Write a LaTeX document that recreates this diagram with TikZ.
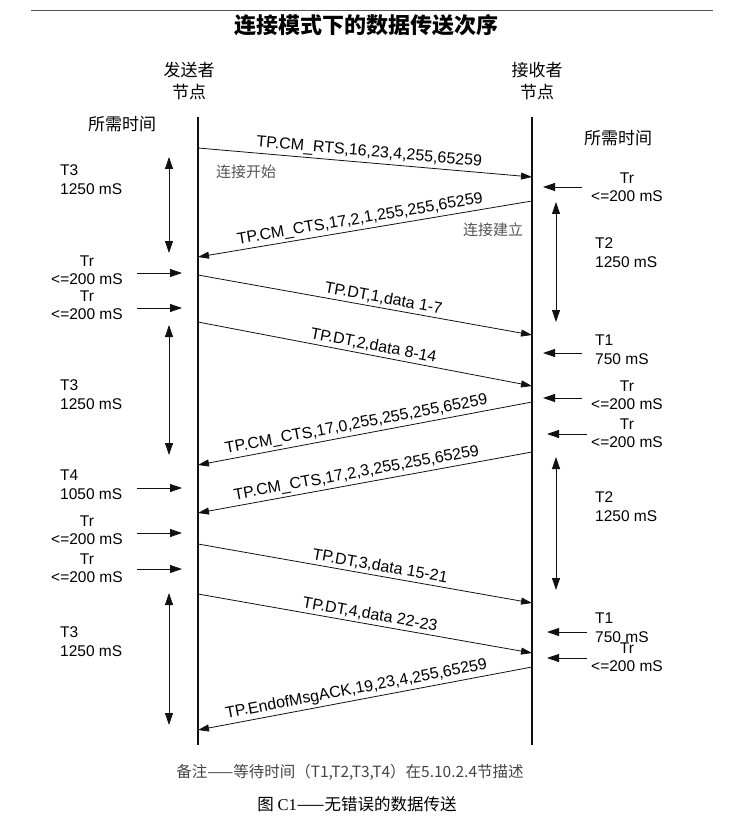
\documentclass[tikz,border=0pt]{standalone}
\usepackage{fontspec}
\setmainfont{Liberation Serif}
\setsansfont{Liberation Sans}
\newfontfamily\cjk{Noto Sans CJK SC}
\usepackage{xcolor}
\usetikzlibrary{positioning, arrows.meta, calc}
\definecolor{seqline}{HTML}{111111}
\definecolor{seqgray}{HTML}{555555}

\begin{document}
\begin{tikzpicture}[x=1pt,y=-1pt,
 lifeline/.style={draw=seqline, line width=2.6pt},
 msg/.style={draw=seqline, line width=0.8pt, -{Triangle[length=11pt,width=7pt]}},
 lbl/.style={font=\sffamily\fontsize{16}{18}\selectfont, sloped, above, inner sep=2.5pt},
 tarrow/.style={draw=seqline, line width=0.8pt, -{Triangle[length=12pt,width=8pt]}},
 tspan/.style={draw=seqline, line width=0.8pt, {Triangle[length=12pt,width=8pt]}-{Triangle[length=12pt,width=8pt]}},
 tval/.style={font=\sffamily\fontsize{15.5}{19}\selectfont, align=left, anchor=west, inner sep=0pt},
 trval/.style={font=\sffamily\fontsize{15.5}{17.5}\selectfont, align=center, inner sep=0pt},
 head/.style={font=\cjk\fontsize{17}{22}\selectfont, align=center, inner sep=0pt},
 hint/.style={font=\cjk\fontsize{15}{17}\selectfont, text=seqgray, inner sep=0pt}]
\useasboundingbox (0,0) rectangle (734,826);

% title and rule
\coordinate (ruleL) at (31,11);
\coordinate (ruleR) at (713,11);
\draw[seqgray, line width=1pt] (ruleL) -- (ruleR);
\node[font=\cjk\bfseries\fontsize{22}{24}\selectfont, inner sep=0pt](title) at (366,25){连接模式下的数据传送次序};

% lifelines
\node[head](snd) at (189,81){发送者\\节点};
\node[head](rcv) at (537,81){接收者\\节点};
\node[head](needL) at (122,124){所需时间};
\node[head](needR) at (618,138){所需时间};
\coordinate (sndTop) at (198,117);
\coordinate (sndBot) at (198,745);
\coordinate (rcvTop) at (532,117);
\coordinate (rcvBot) at (532,745);
\draw[lifeline] (sndTop) -- (sndBot);
\draw[lifeline] (rcvTop) -- (rcvBot);

% messages
\coordinate (m1a) at (198,148); \coordinate (m1b) at (532,177);
\draw[msg] (m1a) -- node[lbl,pos=0.51]{TP.CM\_RTS,16,23,4,255,65259} (m1b);
\node[hint](open) at (246,172){连接开始};
\coordinate (m2a) at (532,201); \coordinate (m2b) at (198,257);
\draw[msg] (m2a) -- node[lbl,pos=0.51]{TP.CM\_CTS,17,2,1,255,255,65259} (m2b);
\node[hint](estab) at (493,230){连接建立};
\coordinate (m3a) at (198,275); \coordinate (m3b) at (532,335);
\draw[msg] (m3a) -- node[lbl,pos=0.55]{TP.DT,1,data 1-7} (m3b);
\coordinate (m4a) at (198,322); \coordinate (m4b) at (532,386);
\draw[msg] (m4a) -- node[lbl,pos=0.52]{TP.DT,2,data 8-14} (m4b);
\coordinate (m5a) at (532,402); \coordinate (m5b) at (198,465);
\draw[msg] (m5a) -- node[lbl,pos=0.52]{TP.CM\_CTS,17,0,255,255,255,65259} (m5b);
\coordinate (m6a) at (532,452); \coordinate (m6b) at (198,513);
\draw[msg] (m6a) -- node[lbl,pos=0.52]{TP.CM\_CTS,17,2,3,255,255,65259} (m6b);
\coordinate (m7a) at (198,544); \coordinate (m7b) at (532,603);
\draw[msg] (m7a) -- node[lbl,pos=0.54]{TP.DT,3,data 15-21} (m7b);
\coordinate (m8a) at (198,594); \coordinate (m8b) at (532,653);
\draw[msg] (m8a) -- node[lbl,pos=0.51]{TP.DT,4,data 22-23} (m8b);
\coordinate (m9a) at (532,667); \coordinate (m9b) at (198,730);
\draw[msg] (m9a) -- node[lbl,pos=0.52]{TP.EndofMsgACK,19,23,4,255,65259} (m9b);

% sender side timing
\coordinate (ls1a) at (169,157); \coordinate (ls1b) at (169,253);
\draw[tspan] (ls1a) -- (ls1b);
\node[tval](t3a) at (60,180){T3\\1250 mS};
\coordinate (la1a) at (137,273); \coordinate (la1b) at (182,273);
\draw[tarrow] (la1a) -- (la1b);
\node[trval](tra) at (87,270){Tr\\<=200 mS};
\coordinate (la2a) at (137,308); \coordinate (la2b) at (182,308);
\draw[tarrow] (la2a) -- (la2b);
\node[trval](trb) at (87,305){Tr\\<=200 mS};
\coordinate (ls2a) at (169,325); \coordinate (ls2b) at (169,455);
\draw[tspan] (ls2a) -- (ls2b);
\node[tval](t3b) at (60,395){T3\\1250 mS};
\coordinate (la3a) at (137,488); \coordinate (la3b) at (182,488);
\draw[tarrow] (la3a) -- (la3b);
\node[tval](t4) at (60,485){T4\\1050 mS};
\coordinate (la4a) at (137,533); \coordinate (la4b) at (182,533);
\draw[tarrow] (la4a) -- (la4b);
\node[trval](trc) at (87,530){Tr\\<=200 mS};
\coordinate (la5a) at (137,569); \coordinate (la5b) at (182,569);
\draw[tarrow] (la5a) -- (la5b);
\node[trval](trd) at (87,568){Tr\\<=200 mS};
\coordinate (ls3a) at (169,593); \coordinate (ls3b) at (169,725);
\draw[tspan] (ls3a) -- (ls3b);
\node[tval](t3c) at (60,642){T3\\1250 mS};

% receiver side timing
\coordinate (ra1a) at (582,187); \coordinate (ra1b) at (543,187);
\draw[tarrow] (ra1a) -- (ra1b);
\node[trval](rtra) at (627,187){Tr\\<=200 mS};
\coordinate (rs1a) at (556,202); \coordinate (rs1b) at (556,322);
\draw[tspan] (rs1a) -- (rs1b);
\node[tval](t2a) at (595,253){T2\\1250 mS};
\coordinate (ra2a) at (582,353); \coordinate (ra2b) at (543,353);
\draw[tarrow] (ra2a) -- (ra2b);
\node[tval](t1a) at (595,350){T1\\750 mS};
\coordinate (ra3a) at (582,398); \coordinate (ra3b) at (543,398);
\draw[tarrow] (ra3a) -- (ra3b);
\node[trval](rtrb) at (627,395){Tr\\<=200 mS};
\coordinate (ra4a) at (587,434); \coordinate (ra4b) at (547,434);
\draw[tarrow] (ra4a) -- (ra4b);
\node[trval](rtrc) at (627,433){Tr\\<=200 mS};
\coordinate (rs2a) at (556,457); \coordinate (rs2b) at (556,590);
\draw[tspan] (rs2a) -- (rs2b);
\node[tval](t2b) at (595,507){T2\\1250 mS};
\coordinate (ra5a) at (587,632); \coordinate (ra5b) at (547,632);
\draw[tarrow] (ra5a) -- (ra5b);
\node[tval](t1b) at (595,628){T1\\750 mS};
\coordinate (ra6a) at (587,658); \coordinate (ra6b) at (547,658);
\draw[tarrow] (ra6a) -- (ra6b);
\node[trval](rtrd) at (627,657){Tr\\<=200 mS};

% notes
\node[font=\cjk\fontsize{15.5}{17}\selectfont, text=seqgray!80!black, inner sep=0pt](note) at (350,772){备注——等待时间（T1,T2,T3,T4）在5.10.2.4节描述};
\node[font=\cjk\fontsize{16.5}{18}\selectfont, inner sep=0pt](caption) at (357,804){图 {\rmfamily C1}——无错误的数据传送};
\end{tikzpicture}
\end{document}
